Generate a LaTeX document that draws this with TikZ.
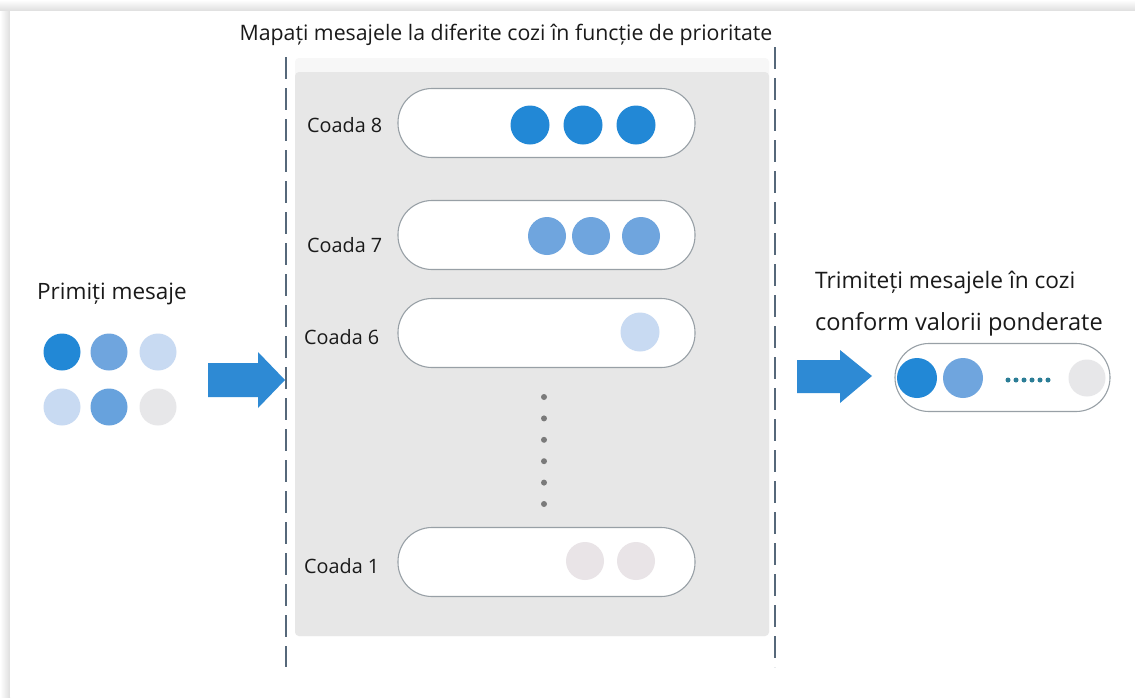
\documentclass[tikz,border=0pt]{standalone}
\usepackage{fontspec}
\setmainfont{Open Sans}
\usetikzlibrary{shapes.misc}
\definecolor{txt}{HTML}{1A1A1A}
\definecolor{dblue}{HTML}{2288D6}
\definecolor{mblue}{HTML}{6FA5DE}
\definecolor{lblue}{HTML}{C8DAF2}
\definecolor{faint}{HTML}{E7E7E9}
\definecolor{faintp}{HTML}{E9E4E7}
\definecolor{panel}{HTML}{E7E7E7}
\definecolor{pillb}{HTML}{98A0A6}
\definecolor{dashc}{HTML}{56687A}
\definecolor{arrowc}{HTML}{2E8AD4}
\definecolor{teal}{HTML}{2B7D96}
\definecolor{dotg}{HTML}{7A7A7A}
\tikzset{
  lbl/.style={text=txt, inner sep=0pt, font=\fontsize{19.8}{23}\selectfont},
  bigl/.style={text=txt, inner sep=0pt, font=\fontsize{22.5}{26}\selectfont, anchor=west},
  pill/.style={draw=pillb, fill=white, line width=1.1pt, rounded corners=34pt, minimum width=297pt, minimum height=69pt, inner sep=0pt},
  ball/.style={circle, inner sep=0pt, minimum size=#1},
  ball/.default=39pt,
  sep/.style={draw=dashc, line width=1.6pt, dash pattern=on 22pt off 9pt},
  ddot/.style={circle, fill=dotg, inner sep=0pt, minimum size=6pt},
  tdot/.style={circle, fill=teal, inner sep=0pt, minimum size=5pt},
}
\begin{document}
\begin{tikzpicture}[x=1pt,y=-1pt]
\useasboundingbox (0,0) rectangle (1135,697);
% page shadow
\shade[top color=white, bottom color=black!13] (0,0) rectangle (1135,11);
\shade[left color=white, right color=black!13] (0,11) rectangle (10,697);
\fill[white] (10,11) rectangle (1135,697);
% panel
\fill[black!3, rounded corners=4pt] (295,58) rectangle (769,636);
\fill[panel, rounded corners=4pt] (295,72) rectangle (769,636);
% separators
\draw[sep] (286,57) -- (286,667);
\draw[sep] (775,47) -- (775,667);
% title
\node[lbl, font=\fontsize{21.3}{25}\selectfont] (title) at (506,35) {Mapați mesajele la diferite cozi în funcție de prioritate};
% queues
\node[pill] (q8) at (546.5,123) {};
\node[pill] (q7) at (546.5,235) {};
\node[pill] (q6) at (546.5,333) {};
\node[pill] (q1) at (546.5,562) {};
\node[lbl, anchor=west] (l8) at (307,125) {Coada 8};
\node[lbl, anchor=west] (l7) at (307,245) {Coada 7};
\node[lbl, anchor=west] (l6) at (304,337) {Coada 6};
\node[lbl, anchor=west] (l1) at (304,566) {Coada 1};
% balls in queues
\node[ball, fill=dblue] (b81) at (530,125) {};
\node[ball, fill=dblue] (b82) at (583,125) {};
\node[ball, fill=dblue] (b83) at (636,125) {};
\node[ball=38pt, fill=mblue] (b71) at (547,236) {};
\node[ball=38pt, fill=mblue] (b72) at (591,236) {};
\node[ball=38pt, fill=mblue] (b73) at (641,236) {};
\node[ball=39pt, fill=lblue] (b61) at (640,332) {};
\node[ball=38pt, fill=faintp] (b11) at (585,561) {};
\node[ball=38pt, fill=faintp] (b12) at (636,561) {};
% vertical dots
\foreach \i in {0,...,5} { \node[ddot] (vd\i) at (544,397+21.4*\i) {}; }
% incoming messages
\node[bigl] (inc) at (37,294) {Primiți mesaje};
\node[ball=37pt, fill=dblue] (m1) at (62,352) {};
\node[ball=37pt, fill=mblue] (m2) at (109,352) {};
\node[ball=37pt, fill=lblue] (m3) at (158,352) {};
\node[ball=37pt, fill=lblue] (m4) at (62,407) {};
\node[ball=37pt, fill=mblue!90!dblue] (m5) at (109,407) {};
\node[ball=37pt, fill=faint] (m6) at (158,407) {};
% arrows
\fill[arrowc] (208,363) -- (258,363) -- (258,352) -- (285,380) -- (258,408) -- (258,397) -- (208,397) -- cycle;
\fill[arrowc] (797,360) -- (840,360) -- (840,350) -- (872,376) -- (840,403) -- (840,393) -- (797,393) -- cycle;
% output
\node[bigl, font=\fontsize{22.7}{26}\selectfont] (out1) at (815,283) {Trimiteți mesajele în cozi};
\node[bigl, font=\fontsize{23.6}{27}\selectfont] (out2) at (815,324) {conform valorii ponderate};
\node[pill, minimum width=215pt, minimum height=68pt] (qo) at (1002.5,377.5) {};
\node[ball=40pt, fill=dblue] (o1) at (917,378) {};
\node[ball=40pt, fill=mblue] (o2) at (963,378) {};
\node[ball=37pt, fill=faint] (o3) at (1087,378) {};
\foreach \i in {0,...,5} { \node[tdot] (td\i) at (1008+8*\i,380) {}; }
\end{tikzpicture}
\end{document}
